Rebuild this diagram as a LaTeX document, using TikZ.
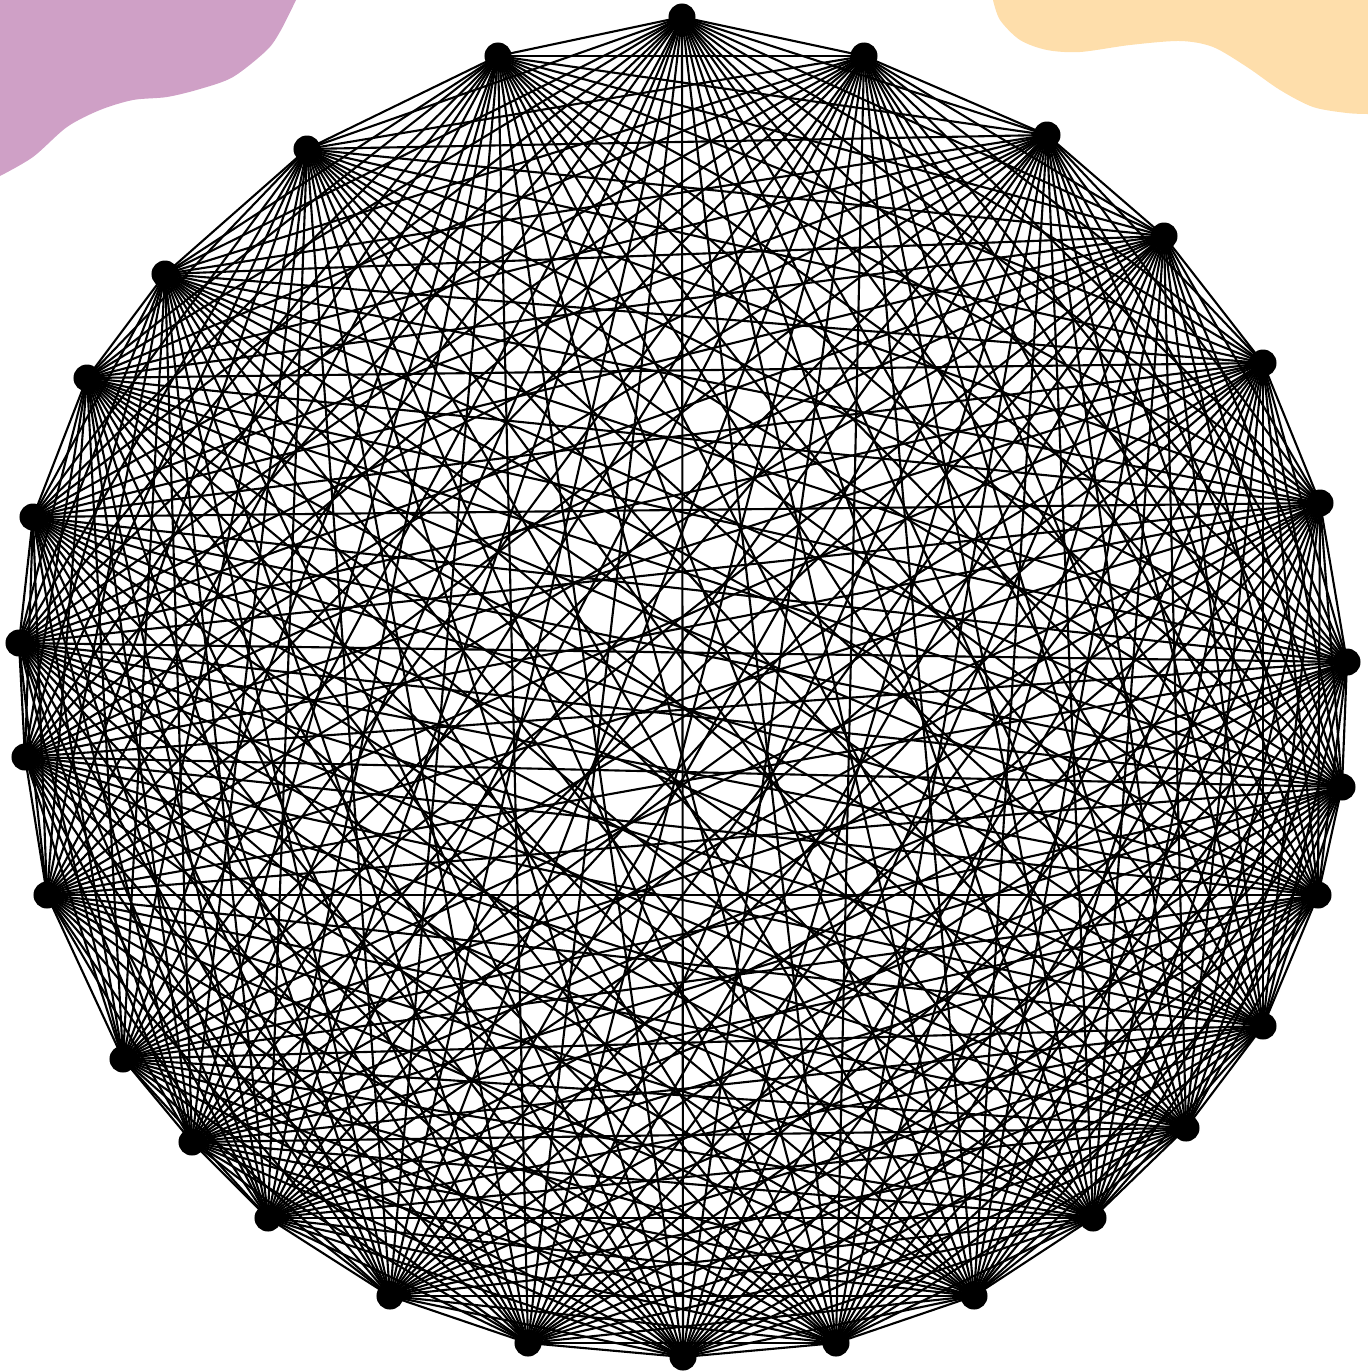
\documentclass[tikz,border=0pt]{standalone}
\usepackage{tikz}

\definecolor{blobpurple}{RGB}{207,160,198}
\definecolor{bloborange}{RGB}{254,222,171}

\pgfdeclarelayer{edges}
\pgfsetlayers{edges,main}

\tikzset{
  vertex/.style={circle, fill=black, inner sep=0pt, minimum size=0.27cm},
  link/.style={black, line width=0.6pt}
}

\begin{document}
\begin{tikzpicture}[x=0.01cm, y=-0.01cm]
        \useasboundingbox (0,0) rectangle (1368,1372);

        % corner blobs
        \begin{pgfonlayer}{edges}
        \fill[blobpurple] (0,0) -- (296,0) -- plot[smooth] coordinates {(296,0) (281,30) (267,50) (233,77) (200,89) (167,97) (133,100) (100,110) (67,127) (33,157) (0,176)} -- cycle;
        \fill[bloborange] (1368,0) -- (993,0) -- plot[smooth] coordinates {(993,0) (1000,20) (1020,40) (1047,50) (1080,52) (1130,45) (1180,41) (1213,47) (1247,67) (1280,90) (1313,107) (1347,113) (1368,114)} -- cycle;
        \end{pgfonlayer}

        % vertices
        \foreach \x/\y [count=\i] in {682/17, 864/56, 1047/135, 1164/236, 1263/363, 1320/503, 1347/662,
            1342/787, 1318/895, 1263/1026, 1186/1128, 1093/1218, 974/1296, 836/1343, 683/1357,
            528/1343, 390/1296, 268/1218, 192/1142, 123/1059, 47/895, 25/757, 19/643, 33/517,
            87/378, 165/274, 307/149, 498/56}
            \node[vertex] (v\i) at (\x,\y) {};

        % every pair joined
        \begin{pgfonlayer}{edges}
        \foreach \i in {1,...,27} {
            \pgfmathtruncatemacro{\nexti}{\i+1}
            \foreach \j in {\nexti,...,28}
                \draw[link] (v\i.center) -- (v\j.center);
        }
        \end{pgfonlayer}
    \end{tikzpicture}
\end{document}
